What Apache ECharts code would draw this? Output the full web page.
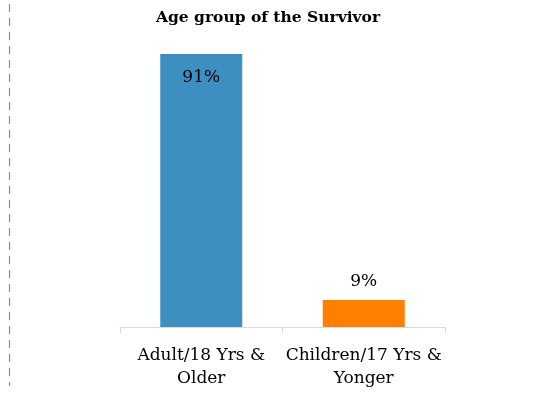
<!DOCTYPE html>
<html><head><meta charset="utf-8">
<script src="https://cdn.jsdelivr.net/npm/echarts@6/dist/echarts.min.js"></script>
<style>html,body{margin:0;padding:0;background:#fff}#c{width:557px;height:394px}</style>
</head><body><div id="c"></div>
<script>
var categories = ['Adult/18 Yrs &\nOlder', 'Children/17 Yrs &\nYonger'];
var values = [91, 9];
var labels = ['91%', '9%'];
var colors = ['#3d8fc1', '#ff8000'];
var title = 'Age group of the Survivor';

var chart = echarts.init(document.getElementById('c'));
chart.setOption({
  animation: false,
  title: {text: title, left: 263, textAlign: 'center', top: 5,
    textStyle: {fontFamily: 'DejaVu Serif', fontWeight: 'bold', fontSize: 15.5, color: '#000'}},
  grid: {left: 120, right: 112, top: 27, bottom: 67},
  xAxis: {type: 'category', data: categories,
    axisLine: {lineStyle: {color: '#d9d9d9'}},
    axisTick: {show: true, length: 6, lineStyle: {color: '#d9d9d9'}},
    axisLabel: {interval: 0, fontFamily: 'DejaVu Serif', fontSize: 17, color: '#000', lineHeight: 23, margin: 17}},
  yAxis: {type: 'value', min: 0, max: 100, show: false},
  series: [{
    type: 'bar', barWidth: 82,
    data: values.map(function (v, i) {
      return {value: v, itemStyle: {color: colors[i]},
        label: {show: true, position: i === 0 ? 'insideTop' : 'top', distance: i === 0 ? 15 : 10,
          formatter: labels[i], fontFamily: 'DejaVu Serif', fontSize: 17, color: '#000'}};
    })
  }],
  graphic: [{type: 'line', shape: {x1: 9.5, y1: 4, x2: 9.5, y2: 386},
    style: {stroke: '#8c8c8c', lineWidth: 1.2, lineDash: [8, 6]}}]
});
</script></body></html>
